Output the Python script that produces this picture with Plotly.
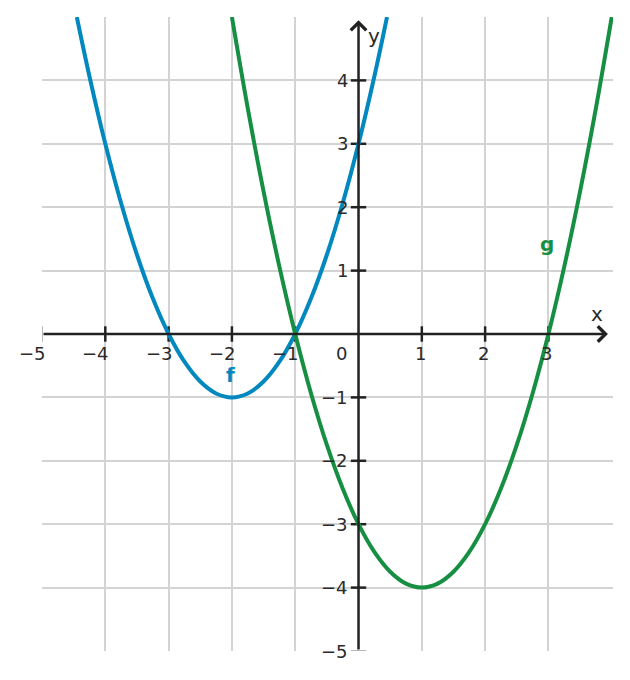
import plotly.graph_objects as go

# Data
f_x = [-4.45, -4.25, -4, -3.75, -3.5, -3.25, -3, -2.75, -2.5, -2.25, -2, -1.75, -1.5, -1.25, -1,
       -0.75, -0.5, -0.25, 0, 0.25, 0.45]
f_y = [5.0, 4.0625, 3, 2.0625, 1.25, 0.5625, 0, -0.4375, -0.75, -0.9375, -1, -0.9375, -0.75, -0.4375, 0,
       0.5625, 1.25, 2.0625, 3, 4.0625, 5.0]
g_x = [-2, -1.75, -1.5, -1.25, -1, -0.75, -0.5, -0.25, 0, 0.25, 0.5, 0.75, 1, 1.25, 1.5, 1.75,
       2, 2.25, 2.5, 2.75, 3, 3.25, 3.5, 3.75, 4]
g_y = [5, 3.5625, 2.25, 1.0625, 0, -0.9375, -1.75, -2.4375, -3, -3.4375, -3.75, -3.9375, -4, -3.9375,
       -3.75, -3.4375, -3, -2.4375, -1.75, -0.9375, 0, 1.0625, 2.25, 3.5625, 5]

x_ticks = [-5, -4, -3, -2, -1, 1, 2, 3]
y_ticks = [-5, -4, -3, -2, -1, 1, 2, 3, 4]
x_tick_labels = ["\u22125", "\u22124", "\u22123", "\u22122", "\u22121", "1", "2", "3"]
y_tick_labels = ["\u22125", "\u22124", "\u22123", "\u22122", "\u22121", "1", "2", "3", "4"]

BLUE = "#0088BF"
GREEN = "#178F43"
AXIS = "#222222"
TXT = "#2a2a2a"
FONT = "DejaVu Sans"

fig = go.Figure()

# axis tick marks
tx_inner = [v for v in x_ticks if v != -5]
ty_inner = [v for v in y_ticks if v != -5]
fig.add_trace(go.Scatter(x=tx_inner, y=[0] * len(tx_inner), mode="markers",
                         marker=dict(symbol="line-ns", size=11, line=dict(width=2.5, color=AXIS)),
                         hoverinfo="skip", showlegend=False))
fig.add_trace(go.Scatter(x=[0] * len(ty_inner), y=ty_inner, mode="markers",
                         marker=dict(symbol="line-ew", size=11, line=dict(width=2.5, color=AXIS)),
                         hoverinfo="skip", showlegend=False))
fig.add_trace(go.Scatter(x=[-5], y=[0], mode="markers",
                         marker=dict(symbol="line-ns", size=11, line=dict(width=1.2, color="#888888")),
                         hoverinfo="skip", showlegend=False))
fig.add_trace(go.Scatter(x=[0], y=[-5], mode="markers",
                         marker=dict(symbol="line-ew", size=11, line=dict(width=1.2, color="#888888")),
                         hoverinfo="skip", showlegend=False))

# curves
fig.add_trace(go.Scatter(x=f_x, y=f_y, mode="lines", line=dict(color=BLUE, width=4, shape="spline", smoothing=1),
                         showlegend=False, cliponaxis=True))
fig.add_trace(go.Scatter(x=g_x, y=g_y, mode="lines", line=dict(color=GREEN, width=4, shape="spline", smoothing=1),
                         showlegend=False, cliponaxis=True))

annotations = []
# axis arrows
annotations.append(dict(x=3.94, y=0, ax=-5, ay=0, xref="x", yref="y", axref="x", ayref="y",
                        showarrow=True, arrowhead=4, arrowsize=1.2, arrowwidth=2.5, arrowcolor=AXIS,
                        standoff=0, startstandoff=0, text=""))
annotations.append(dict(x=0, y=4.95, ax=0, ay=-5, xref="x", yref="y", axref="x", ayref="y",
                        showarrow=True, arrowhead=4, arrowsize=1.2, arrowwidth=2.5, arrowcolor=AXIS,
                        standoff=0, startstandoff=0, text=""))

# tick labels
for v, t in zip(x_ticks, x_tick_labels):
    annotations.append(dict(x=v, y=0, xref="x", yref="y", text=t, showarrow=False,
                            xanchor="right", yanchor="middle", xshift=6, yshift=-19,
                            font=dict(family=FONT, size=18, color=TXT)))
for v, t in zip(y_ticks, y_tick_labels):
    annotations.append(dict(x=0, y=v, xref="x", yref="y", text=t, showarrow=False,
                            xanchor="right", yanchor="middle", xshift=-9, yshift=0,
                            font=dict(family=FONT, size=18, color=TXT)))
annotations.append(dict(x=0, y=0, xref="x", yref="y", text="0", showarrow=False,
                        xanchor="right", yanchor="middle", xshift=-10, yshift=-19,
                        font=dict(family=FONT, size=18, color=TXT)))
# axis names
annotations.append(dict(x=3.77, y=0.32, xref="x", yref="y", text="x", showarrow=False,
                        xanchor="center", yanchor="middle", font=dict(family=FONT, size=20, color=TXT)))
annotations.append(dict(x=0.24, y=4.7, xref="x", yref="y", text="y", showarrow=False,
                        xanchor="center", yanchor="middle", font=dict(family=FONT, size=20, color=TXT)))
# curve labels
annotations.append(dict(x=-2.02, y=-0.64, xref="x", yref="y", text="<b>f</b>", showarrow=False,
                        xanchor="center", yanchor="middle", font=dict(family=FONT, size=20, color=BLUE)))
annotations.append(dict(x=2.97, y=1.42, xref="x", yref="y", text="<b>g</b>", showarrow=False,
                        xanchor="center", yanchor="middle", font=dict(family=FONT, size=20, color=GREEN)))

# page body has an 8px margin; margins compensate so the plot area lands at 42..613 x 17..651
fig.update_layout(
    width=630, height=680,
    margin=dict(l=34, r=25, t=9, b=37),
    paper_bgcolor="white", plot_bgcolor="white",
    showlegend=False,
    annotations=annotations,
    xaxis=dict(range=[-5, 4.02], tickvals=x_ticks, showticklabels=False, showgrid=True,
               gridcolor="#d3d3d3", gridwidth=1.5, zeroline=False, showline=False, fixedrange=True),
    yaxis=dict(range=[-5, 5], tickvals=y_ticks, showticklabels=False, showgrid=True,
               gridcolor="#d3d3d3", gridwidth=1.5, zeroline=False, showline=False, fixedrange=True),
)

fig.write_html("out.html")
